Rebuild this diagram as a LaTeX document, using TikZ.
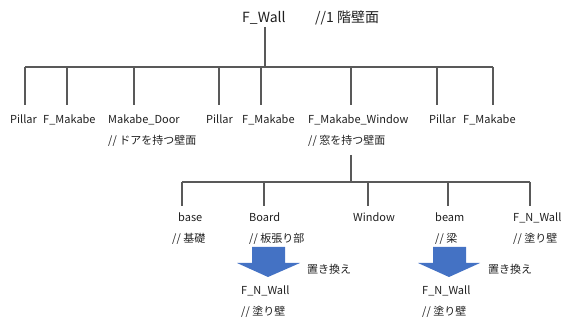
\documentclass[tikz,border=0pt]{standalone}
\usepackage{fontspec}
\setmainfont{Noto Sans CJK JP}
\definecolor{txt}{HTML}{1F1F1F}
\definecolor{ln}{HTML}{595959}
\definecolor{arr}{HTML}{4472C4}
\begin{document}
\begin{tikzpicture}[x=1pt,y=-1pt,
  lbl/.style={anchor=base west,inner sep=0pt,text=txt,font=\fontsize{11}{13}\selectfont},
  top/.style={anchor=base west,inner sep=0pt,text=txt,font=\fontsize{14}{16}\selectfont},
  tree/.style={draw=ln,line width=1.1pt},
  bigarrow/.style={fill=arr,draw=none}]
\useasboundingbox (0,0) rectangle (568,320);
% top
\node[top] (wall) at (242,23) {F\_Wall};
\node[top] (wallc) at (315,23) {//1 階壁面};
% level 1
\node[lbl] (p1) at (10,124) {Pillar};
\node[lbl] (m1) at (43,124) {F\_Makabe};
\node[lbl] (door) at (108,124) {Makabe\_Door};
\node[lbl] (doorc) at (108,145) {// ドアを持つ壁面};
\node[lbl] (p2) at (206,124) {Pillar};
\node[lbl] (m2) at (242,124) {F\_Makabe};
\node[lbl] (win) at (308,124) {F\_Makabe\_Window};
\node[lbl] (winc) at (308,145) {// 窓を持つ壁面};
\node[lbl] (p3) at (429,124) {Pillar};
\node[lbl] (m3) at (463,124) {F\_Makabe};
% level 2
\node[lbl] (base) at (178,222) {base};
\node[lbl] (basec) at (172,243) {// 基礎};
\node[lbl] (board) at (249,222) {Board};
\node[lbl] (boardc) at (249,243) {// 板張り部};
\node[lbl] (window) at (353,222) {Window};
\node[lbl] (beam) at (435,222) {beam};
\node[lbl] (beamc) at (435,243) {// 梁};
\node[lbl] (nw) at (513,222) {F\_N\_Wall};
\node[lbl] (nwc) at (513,243) {// 塗り壁};
% replacements
\node[lbl] (rep1) at (307,274) {置き換え};
\node[lbl] (rep2) at (488,274) {置き換え};
\node[lbl] (nw1) at (241,295) {F\_N\_Wall};
\node[lbl] (nw1c) at (241,316) {// 塗り壁};
\node[lbl] (nw2) at (422,295) {F\_N\_Wall};
\node[lbl] (nw2c) at (422,316) {// 塗り壁};
% tree coordinates
\coordinate (wallS) at (265,27);
\coordinate (bus1) at (265,67);
\coordinate (bus1L) at (25,67);
\coordinate (bus1R) at (493,67);
\foreach \n/\x in {c1/25,c2/67,c3/134,c4/219,c5/261,c6/351,c7/437,c8/493}
  \coordinate (\n) at (\x,105);
\coordinate (winS) at (351,155);
\coordinate (bus2) at (351,182);
\coordinate (bus2L) at (182,182);
\coordinate (bus2R) at (530,182);
\foreach \n/\x in {d1/182,d2/264,d3/368,d4/448,d5/530}
  \coordinate (\n) at (\x,206);
% tree lines
\draw[tree] (wallS) -- (bus1);
\draw[tree] (bus1L) -- (bus1R);
\foreach \n in {c1,c2,c3,c4,c5,c6,c7,c8}
  \draw[tree] (\n |- bus1) -- (\n);
\draw[tree] (winS) -- (bus2);
\draw[tree] (bus2L) -- (bus2R);
\foreach \n in {d1,d2,d3,d4,d5}
  \draw[tree] (\n |- bus2) -- (\n);
% block arrows
\fill[bigarrow] (252,247) -- (285,247) -- (285,263) -- (300,263) -- (268,277)
  -- (237,263) -- (252,263) -- cycle;
\fill[bigarrow] (433,247) -- (466,247) -- (466,263) -- (480,263) -- (449,277)
  -- (418,263) -- (433,263) -- cycle;
\end{tikzpicture}
\end{document}
